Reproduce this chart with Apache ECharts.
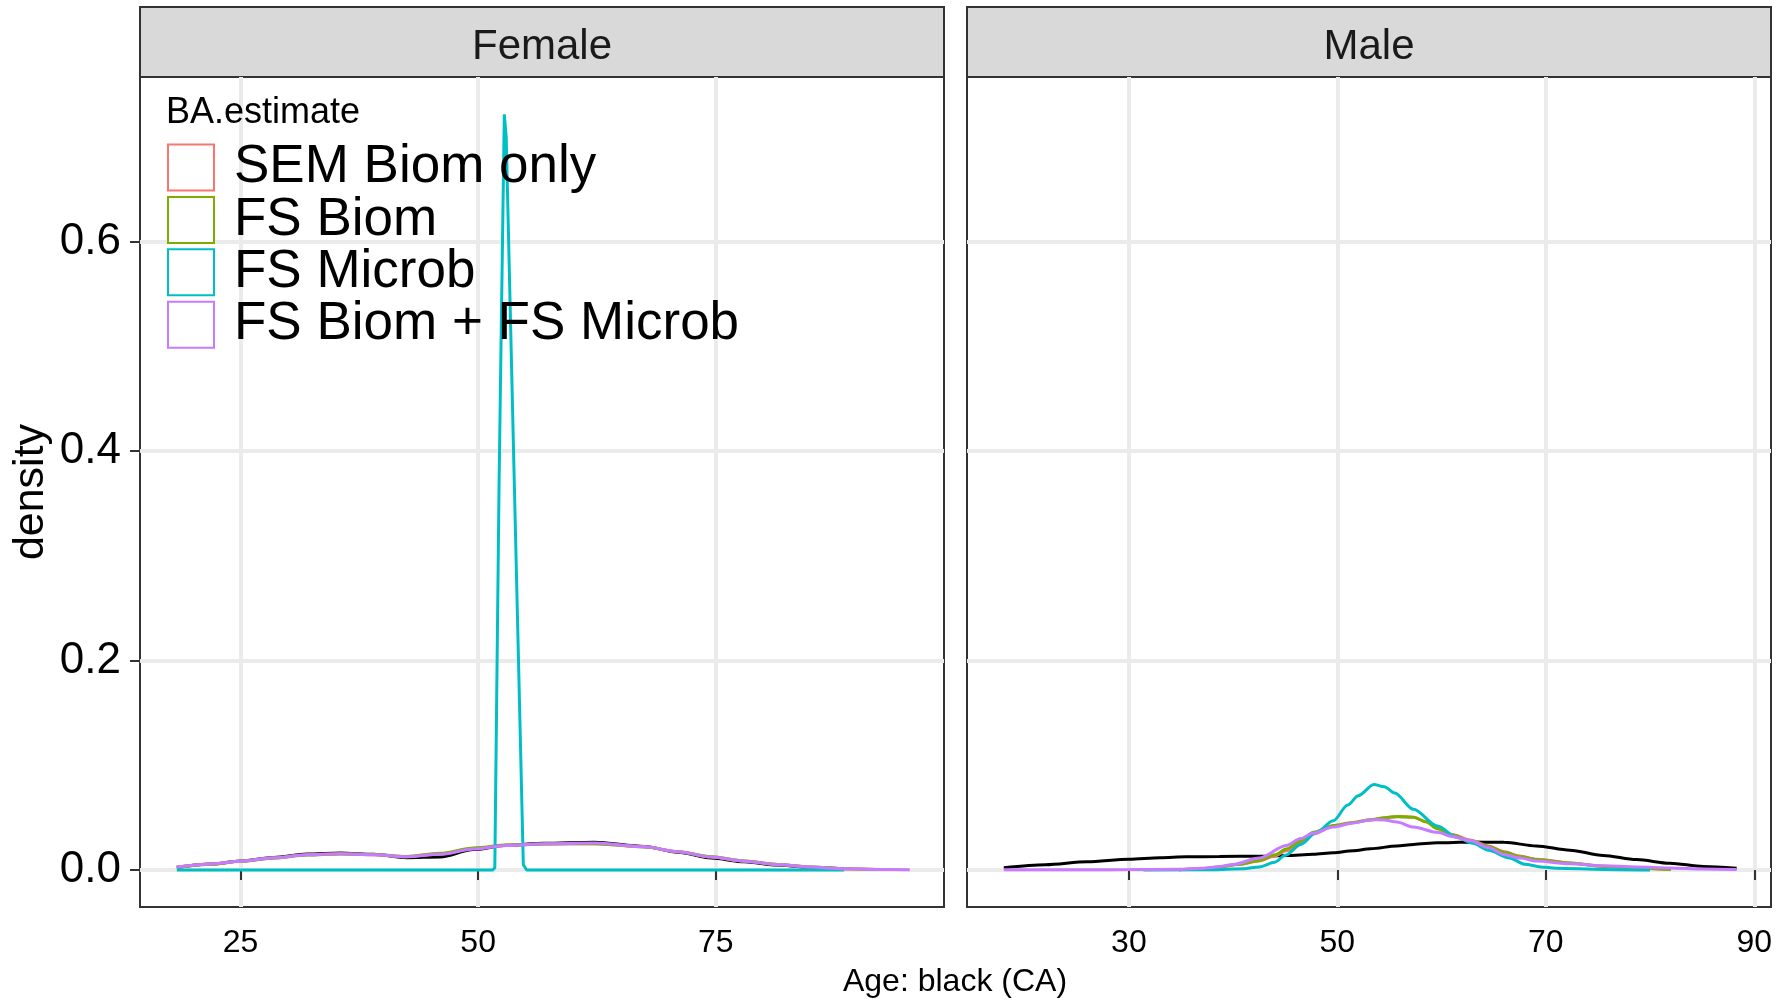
<!DOCTYPE html>
<html lang="en">
<head>
<meta charset="UTF-8">
<title>BA.estimate density</title>
<style>
    html, body { margin: 0; padding: 0; background: #fff; }
    #main { width: 1787px; height: 1001px; }
</style>
</head>
<body>
<div id="main"></div>
<script src="https://cdn.jsdelivr.net/npm/echarts@6/dist/echarts.min.js"></script>
<script>
var FONT = '"Liberation Sans", Arial, sans-serif';

var panels = ['Female', 'Male'];
var legendNames = ['SEM Biom only', 'FS Biom', 'FS Microb', 'FS Biom + FS Microb'];
var colors = ['#F8766D', '#7CAE00', '#00BFC4', '#C77CFF'];
var femaleTicks = [25, 50, 75];
var maleTicks = [30, 50, 70, 90];
var densityTicks = [0, 0.2, 0.4, 0.6];

// Female panel
var femaleAge = [18.3, 22, 25, 28.5, 32, 35.5, 39, 42.5, 46, 49.5, 53, 56.9, 62.2, 67.5, 71, 74.5, 78, 81.5, 85, 88.5, 92, 95.4];
var femaleCA = [0.0025, 0.0057, 0.0086, 0.0120, 0.0152, 0.0162, 0.0150, 0.0118, 0.0125, 0.0195, 0.0237, 0.0255, 0.0266, 0.0225, 0.0170, 0.0115, 0.0078, 0.0048, 0.0025, 0.0012];
var femaleSEM = [0.0027, 0.0057, 0.0084, 0.0116, 0.0145, 0.0155, 0.0147, 0.0128, 0.0155, 0.0205, 0.0236, 0.0249, 0.0254, 0.0222, 0.0176, 0.0126, 0.0086, 0.0053, 0.0028, 0.0013, 0.0005];
var femaleFSBiom = [0.0027, 0.0056, 0.0083, 0.0115, 0.0144, 0.0154, 0.0148, 0.0130, 0.0160, 0.0210, 0.0238, 0.0248, 0.0252, 0.0220, 0.0175, 0.0127, 0.0087, 0.0054, 0.0029, 0.0013, 0.0005];
var femaleBoth = [0.0028, 0.0058, 0.0085, 0.0117, 0.0146, 0.0156, 0.0146, 0.0126, 0.0150, 0.0200, 0.0235, 0.0250, 0.0257, 0.0222, 0.0175, 0.0124, 0.0085, 0.0052, 0.0028, 0.0013, 0.0006, 0.0003];
var femaleMicrobAge = [18.3, 51.5, 51.75, 52.2, 52.75, 52.95, 53.8, 54.75, 55.1, 88.5];
var femaleMicrob = [0, 0, 0.002, 0.37, 0.7217, 0.70, 0.37, 0.005, 0, 0];

// Male panel
var maleAge = [18, 22, 26, 30, 33, 35.5, 38.7, 42.5, 45.1, 47.7, 49.6, 51.5, 53.2, 55.7, 57.3, 59.6, 62.7, 66, 69.1, 72.3, 75.5, 78.7, 81.9, 85.1, 88.3];
var maleCA = [0.0022, 0.0050, 0.0078, 0.0103, 0.0118, 0.0126, 0.0130, 0.0132, 0.0138, 0.0150, 0.0165, 0.0185, 0.0203, 0.0230, 0.0245, 0.0260, 0.0268, 0.0265, 0.0230, 0.0190, 0.0139, 0.0100, 0.0065, 0.0034, 0.0018];
var maleBiomAge = [34.8, 37, 38.7, 40.5, 42.5, 44, 45.1, 46.5, 47.7, 49.6, 51.5, 53.2, 54.5, 55.7, 57.3, 58.5, 59.6, 61, 62.7, 64.5, 66, 67.5, 69.1, 72.3, 75.5, 78.7, 82];
var maleSEM = [0.0002, 0.0011, 0.0028, 0.0052, 0.0086, 0.0135, 0.0185, 0.026, 0.0345, 0.0418, 0.0452, 0.0478, 0.0498, 0.0508, 0.0503, 0.0462, 0.0400, 0.0340, 0.0288, 0.0230, 0.0175, 0.0133, 0.0104, 0.0068, 0.0036, 0.0018, 0.0005];
var maleFSBiom = [0.0002, 0.0012, 0.003, 0.0055, 0.009, 0.0145, 0.020, 0.028, 0.036, 0.0426, 0.0455, 0.048, 0.050, 0.0512, 0.0505, 0.046, 0.0395, 0.0335, 0.0283, 0.0225, 0.0171, 0.013, 0.0101, 0.0066, 0.0034, 0.0017, 0.0004];
var maleMicrobAge = [31.4, 38, 41, 42.5, 44, 45, 46.5, 48, 49.6, 51, 52, 53.5, 54.5, 55.5, 57.3, 59.6, 61.5, 63, 64.5, 66.5, 68, 69.5, 71, 75.5, 80];
var maleMicrob = [0, 0.0003, 0.0012, 0.003, 0.0075, 0.014, 0.0245, 0.036, 0.047, 0.062, 0.071, 0.0817, 0.0795, 0.0735, 0.058, 0.042, 0.031, 0.0255, 0.019, 0.0115, 0.0055, 0.003, 0.0017, 0.0006, 0.0001];
var maleBothAge = [18, 26, 30, 34.8, 37, 38.7, 40, 42.5, 45.1, 46.5, 47.7, 49.6, 51.5, 53.2, 54.5, 55.7, 57.3, 59.6, 61, 62.7, 64.5, 66, 67.5, 69.1, 72.3, 75.5, 78.7, 81.9, 85.1, 88.3];
var maleBoth = [0.0003, 0.0003, 0.0004, 0.0008, 0.0018, 0.0032, 0.0053, 0.0114, 0.0235, 0.0300, 0.0353, 0.041, 0.045, 0.048, 0.0478, 0.0458, 0.041, 0.036, 0.032, 0.0283, 0.0215, 0.0149, 0.0115, 0.0086, 0.006, 0.0041, 0.0029, 0.002, 0.001, 0.0005];

function pairs(xs, ys) {
    var out = [];
    var n = Math.min(xs.length, ys.length);
    for (var i = 0; i < n; i++) out.push([xs[i], ys[i]]);
    return out;
}

var chart = echarts.init(document.getElementById('main'));

var gridLeft = [140, 967];
var gridTop = 77, gridW = 804, gridH = 830;
var xRange = [[14.43, 99.0], [14.47, 91.6]];
var yMin = -0.0353, yMax = 0.7573;

function line(name, panel, data, color, smooth) {
    return {
        name: name,
        type: 'line',
        xAxisIndex: panel,
        yAxisIndex: panel,
        data: data,
        showSymbol: false,
        smooth: smooth,
        smoothMonotone: 'x',
        silent: true,
        lineStyle: { color: color, width: 3 },
        itemStyle: { color: color }
    };
}

function xAxis(i, ticks) {
    return {
        gridIndex: i,
        type: 'value',
        min: xRange[i][0],
        max: xRange[i][1],
        axisLine: { show: false },
        axisTick: { show: true, customValues: ticks, length: 10, lineStyle: { color: '#333', width: 2 } },
        axisLabel: { customValues: ticks, fontSize: 32, color: '#000', margin: 20, fontFamily: FONT },
        splitLine: { show: true, lineStyle: { color: '#EBEBEB', width: 4 } }
    };
}

function yAxis(i) {
    return {
        gridIndex: i,
        type: 'value',
        min: yMin,
        max: yMax,
        axisLine: { show: false },
        axisTick: { show: i === 0, customValues: densityTicks, length: 10, lineStyle: { color: '#333', width: 2 } },
        axisLabel: {
            show: i === 0, customValues: densityTicks, fontSize: 44, color: '#000', margin: 19, fontFamily: FONT,
            formatter: function (v) { return v.toFixed(1); }
        },
        splitLine: { show: true, lineStyle: { color: '#EBEBEB', width: 4 } }
    };
}

var graphics = [];
panels.forEach(function (p, i) {
    graphics.push({
        type: 'rect',
        shape: { x: gridLeft[i], y: 7, width: gridW, height: 70 },
        style: { fill: '#D9D9D9', stroke: '#333', lineWidth: 2 }
    });
    graphics.push({
        type: 'text',
        x: gridLeft[i] + gridW / 2,
        y: 47,
        style: { text: p, fill: '#1A1A1A', font: '42px ' + FONT, align: 'center', verticalAlign: 'middle' }
    });
});
graphics.push({
    type: 'text', x: 31, y: 492, rotation: Math.PI / 2,
    style: { text: 'density', fill: '#000', font: '43px ' + FONT, align: 'center', verticalAlign: 'middle' }
});
graphics.push({
    type: 'text', x: 955, y: 982,
    style: { text: 'Age: black (CA)', fill: '#000', font: '32px ' + FONT, align: 'center', verticalAlign: 'middle' }
});
graphics.push({
    type: 'text', x: 166, y: 113, z: 10,
    style: { text: 'BA.estimate', fill: '#000', font: '36px ' + FONT, align: 'left', verticalAlign: 'middle' }
});

var option = {
    animation: false,
    backgroundColor: '#fff',
    grid: [0, 1].map(function (i) {
        return {
            left: gridLeft[i], top: gridTop, width: gridW, height: gridH,
            show: true, backgroundColor: '#fff', borderColor: '#333', borderWidth: 2
        };
    }),
    xAxis: [xAxis(0, femaleTicks), xAxis(1, maleTicks)],
    yAxis: [yAxis(0), yAxis(1)],
    legend: {
        data: legendNames.map(function (n, i) {
            return { name: n, icon: 'rect', itemStyle: { color: '#fff', borderColor: colors[i], borderWidth: 2 } };
        }),
        orient: 'vertical',
        left: 167,
        top: 141,
        padding: 0,
        itemWidth: 46,
        itemHeight: 46,
        itemGap: -0.6,
        selectedMode: false,
        textStyle: { fontSize: 53, color: '#000', fontFamily: FONT, lineHeight: 46, padding: [0, 0, 0, 15] }
    },
    graphic: graphics,
    series: [
        line('CA', 0, pairs(femaleAge, femaleCA), '#000', 0.3),
        line(legendNames[0], 0, pairs(femaleAge, femaleSEM), colors[0], 0.3),
        line(legendNames[1], 0, pairs(femaleAge, femaleFSBiom), colors[1], 0.3),
        line(legendNames[2], 0, pairs(femaleMicrobAge, femaleMicrob), colors[2], false),
        line(legendNames[3], 0, pairs(femaleAge, femaleBoth), colors[3], 0.3),
        line('CA', 1, pairs(maleAge, maleCA), '#000', 0.3),
        line(legendNames[0], 1, pairs(maleBiomAge, maleSEM), colors[0], 0.3),
        line(legendNames[1], 1, pairs(maleBiomAge, maleFSBiom), colors[1], 0.3),
        line(legendNames[2], 1, pairs(maleMicrobAge, maleMicrob), colors[2], 0.3),
        line(legendNames[3], 1, pairs(maleBothAge, maleBoth), colors[3], 0.3)
    ]
};

chart.setOption(option);
</script>
</body>
</html>
